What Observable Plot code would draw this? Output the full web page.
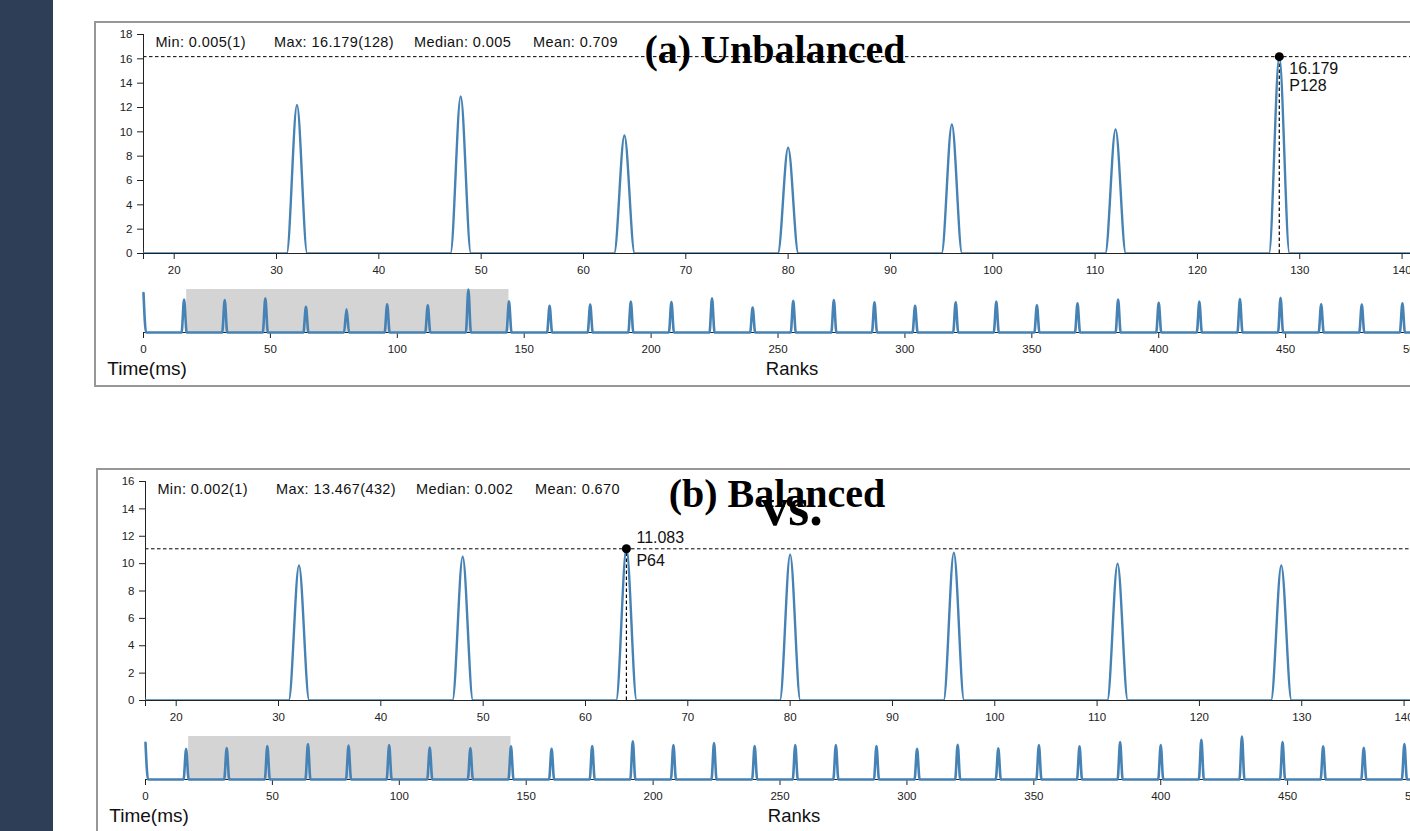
<!DOCTYPE html>
<html><head><meta charset="utf-8">
<script src="https://cdn.jsdelivr.net/npm/d3@7"></script>
<script src="https://cdn.jsdelivr.net/npm/@observablehq/plot@0.6"></script>
<style>
html,body{margin:0;padding:0;width:1410px;height:831px;overflow:hidden;background:#fff;}
#side{position:absolute;left:0;top:0;width:53px;height:831px;background:#2d3e56;}
.box{position:absolute;border:2px solid #979797;box-sizing:border-box;width:1420px;height:366px;}
#overlay{position:absolute;left:0;top:0;pointer-events:none;}
</style></head><body>
<div id="side"></div>
<div id="root"></div>
<script>
// ---------- data ----------
const rankCount = 512;
const peakRanks = [0,16,32,48,64,80,96,112,128,144,160,176,192,208,224,240,256,272,288,304,320,336,352,368,384,400,416,432,448,464,480,496];
const unbalancedPeaks = [14.8,12.4,12.2,12.9,9.7,8.7,10.6,10.2,16.179,11.7,10.0,10.5,11.6,11.5,12.9,9.4,11.9,12.2,11.4,10.0,11.4,11.6,10.2,11.0,12.4,11.2,11.6,12.6,13.1,10.6,10.5,11.0];
const balancedPeaks   = [11.5,9.5,9.86,10.5,11.083,10.66,10.8,10.0,9.86,10.4,9.6,10.5,12.0,10.8,11.4,10.5,10.8,10.8,10.5,9.65,10.9,9.75,10.8,10.4,11.7,10.8,12.4,13.467,11.7,10.4,9.95,11.1];
const unbalancedBase = 0.005;
const balancedBase = 0.002;
const unbalancedStats = ["Min: 0.005(1)", "Max: 16.179(128)", "Median: 0.005", "Mean: 0.709"];
const balancedStats   = ["Min: 0.002(1)", "Max: 13.467(432)", "Median: 0.002", "Mean: 0.670"];
const focusDomain = [17, 144];
const contextDomain = [0, 512];
const focusTicks = [20,30,40,50,60,70,80,90,100,110,120,130,140];
const contextTicks = [0,50,100,150,200,250,300,350,400,450,500];
const unbalancedYTicks = [0,2,4,6,8,10,12,14,16,18];
const balancedYTicks = [0,2,4,6,8,10,12,14,16];
const titles = ["(a) Unbalanced", "(b) Balanced"];
const vsLabel = "vs.";
const xLabel = "Ranks";
const yLabel = "Time(ms)";

// ---------- build ----------
function series(peaks, base) {
  const m = new Map(peakRanks.map((r, i) => [r, peaks[i]]));
  return d3.range(rankCount).map(r => ({rank: r, time: m.has(r) ? m.get(r) : base}));
}

const FONT = "'Liberation Sans', Arial, Helvetica, sans-serif";
const LINE = "#4682b4";
const AX = "#222";
const ML = 43, MR = 10.5, IW = 1299.5, W = ML + IW + MR;

const root = document.getElementById("root");
const overlay = d3.select("body").append("svg").attr("id", "overlay")
  .attr("width", 1410).attr("height", 831);

function panel(cfg) {
  const data = series(cfg.peaks, cfg.base);
  const inFocus = data.filter(d => d.rank >= focusDomain[0] && d.rank <= focusDomain[1]);
  const hi = inFocus.reduce((a, b) => (b.time > a.time ? b : a));
  const yTop = cfg.yTicks[cfg.yTicks.length - 1];
  const ctxMax = d3.max(data, d => d.time);

  const box = document.createElement("div");
  box.className = "box";
  box.style.left = (94 + cfg.ox) + "px";
  box.style.top = (21 + cfg.oy) + "px";
  root.appendChild(box);

  const style = {fontFamily: FONT, fontSize: "11.5px", color: AX, background: "transparent", overflow: "visible"};

  const focus = Plot.plot({
    width: W, height: 261, marginLeft: ML, marginRight: MR, marginTop: 12, marginBottom: 30,
    style,
    x: {domain: focusDomain, axis: null},
    y: {domain: [0, yTop], axis: null},
    marks: [
      Plot.ruleY([hi], {y: "time", stroke: "#000", strokeWidth: 1, strokeDasharray: "3.5,2.5"}),
      Plot.ruleX([hi], {x: "rank", y1: 0, y2: "time", stroke: "#000", strokeWidth: 1.2, strokeDasharray: "3.5,2.5"}),
      Plot.axisX({ticks: focusTicks, tickSize: 6, tickPadding: 6, label: null, stroke: AX}),
      Plot.axisX({ticks: focusDomain, tickSize: 6, tickFormat: () => "", label: null, stroke: AX}),
      Plot.axisY({ticks: cfg.yTicks, tickSize: 6, tickPadding: 5, label: null, stroke: AX}),
      Plot.ruleX([focusDomain[0]], {y1: 0, y2: yTop, stroke: AX}),
      Plot.ruleY([0], {stroke: AX}),
      Plot.line(data, {x: "rank", y: "time", curve: "monotone-x", stroke: LINE, strokeWidth: 2.4, clip: true}),
      Plot.dot([hi], {x: "rank", y: "time", r: 4.5, fill: "#000"}),
      Plot.text([hi], {x: "rank", y: "time", text: d => d.time.toFixed(3), dx: 10, dy: cfg.dy1, textAnchor: "start", fontSize: 16, fill: "#111"}),
      Plot.text([hi], {x: "rank", y: "time", text: d => "P" + d.rank, dx: 10, dy: cfg.dy2, textAnchor: "start", fontSize: 16, fill: "#111"})
    ]
  });
  focus.style.position = "absolute";
  focus.style.left = (100 + cfg.ox) + "px";
  focus.style.top = (22 + cfg.oy) + "px";
  root.appendChild(focus);

  const ctx = Plot.plot({
    width: W, height: 74, marginLeft: ML, marginRight: MR, marginTop: 6, marginBottom: 25,
    style,
    x: {domain: contextDomain, axis: null},
    y: {domain: [0, ctxMax], axis: null},
    marks: [
      Plot.rect([{x1: focusDomain[0], x2: focusDomain[1]}], {x1: "x1", x2: "x2", y1: 0, y2: ctxMax, fill: "#d4d4d4"}),
      Plot.ruleY([0], {stroke: AX}),
      Plot.axisX({ticks: contextTicks, tickSize: 6, tickPadding: 6, label: null, stroke: AX}),
      Plot.axisX({ticks: [contextDomain[1]], tickSize: 6, tickFormat: () => "", label: null, stroke: AX}),
      Plot.line(data, {x: "rank", y: "time", curve: "monotone-x", stroke: LINE, strokeWidth: 2.6})
    ]
  });
  ctx.style.position = "absolute";
  ctx.style.left = (100 + cfg.ox) + "px";
  ctx.style.top = (283 + cfg.oy) + "px";
  root.appendChild(ctx);

  // stats text
  const statX = [155.4, 274, 414, 533];
  cfg.stats.forEach((s, i) => {
    overlay.append("text").attr("x", statX[i] + cfg.ox).attr("y", 46.7 + cfg.oy)
      .attr("font-family", FONT).attr("font-size", 14.5).attr("letter-spacing", 0.4)
      .attr("fill", "#111").text(s);
  });
  overlay.append("text").attr("x", 107.3 + cfg.ox).attr("y", 375 + cfg.oy)
    .attr("font-family", FONT).attr("font-size", 19).attr("fill", "#111").text(yLabel);
  overlay.append("text").attr("x", 792 + cfg.ox).attr("y", 375 + cfg.oy).attr("text-anchor", "middle")
    .attr("font-family", FONT).attr("font-size", 18.5).attr("fill", "#111").text(xLabel);
  overlay.append("text").attr("x", cfg.titleX).attr("y", cfg.titleY).attr("text-anchor", "middle")
    .attr("font-family", "'Liberation Serif', 'Times New Roman', serif").attr("font-weight", "bold")
    .attr("font-size", 40).attr("fill", "#000").text(cfg.title);
}

panel({peaks: unbalancedPeaks, base: unbalancedBase, stats: unbalancedStats, yTicks: unbalancedYTicks,
       ox: 0, oy: 0, dy1: 12.2, dy2: 28.9, title: titles[0], titleX: 775, titleY: 63.3});
panel({peaks: balancedPeaks, base: balancedBase, stats: balancedStats, yTicks: balancedYTicks,
       ox: 2, oy: 447, dy1: -10.7, dy2: 12.3, title: titles[1], titleX: 777, titleY: 506.7});

overlay.append("text").attr("x", 792).attr("y", 525).attr("text-anchor", "middle")
  .attr("font-family", "'Liberation Serif', 'Times New Roman', serif").attr("font-weight", "bold")
  .attr("font-size", 54).attr("fill", "#000").text(vsLabel);
</script>
</body></html>
